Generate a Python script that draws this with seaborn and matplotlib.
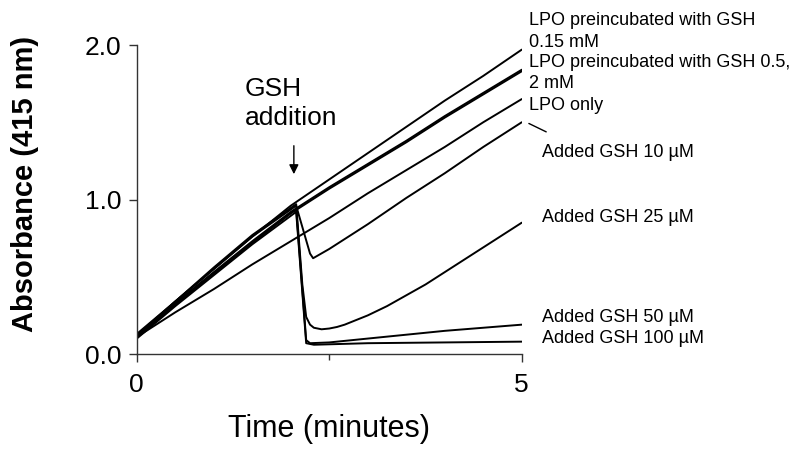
import matplotlib
matplotlib.use("Agg")
import matplotlib.pyplot as plt
import seaborn as sns
import pandas as pd

# curvas de absorbancia a 415 nm
t_pre = [0, 0.5, 1, 1.5, 2, 2.5, 3, 3.5, 4, 4.5, 5]
pre_015 = [0.12, 0.34, 0.55, 0.76, 0.96, 1.13, 1.30, 1.47, 1.64, 1.80, 1.97]
pre_05 = [0.12, 0.33, 0.53, 0.73, 0.92, 1.08, 1.23, 1.38, 1.54, 1.69, 1.84]
pre_2 = [0.11, 0.32, 0.52, 0.72, 0.91, 1.07, 1.22, 1.37, 1.53, 1.68, 1.83]
lpo_only = [0.11, 0.27, 0.42, 0.58, 0.73, 0.88, 1.04, 1.19, 1.34, 1.50, 1.65]

t_10 = [0, 0.5, 1, 1.5, 2.07, 2.25, 2.29, 2.5, 3, 3.5, 4, 4.5, 5]
gsh_10 = [0.13, 0.34, 0.55, 0.76, 0.96, 0.65, 0.62, 0.68, 0.84, 1.01, 1.17, 1.34, 1.50]

t_25 = [0, 0.5, 1, 1.5, 2.07, 2.15, 2.2, 2.25, 2.3, 2.4, 2.5, 2.6, 2.7, 2.8,
        2.9, 3, 3.25, 3.5, 3.75, 4, 4.5, 5]
gsh_25 = [0.12, 0.34, 0.56, 0.77, 0.97, 0.45, 0.24, 0.19, 0.17, 0.16, 0.165,
          0.175, 0.19, 0.21, 0.23, 0.25, 0.31, 0.38, 0.45, 0.53, 0.69, 0.85]

t_50 = [0, 0.5, 1, 1.5, 2.07, 2.2, 2.25, 2.5, 3, 4, 5]
gsh_50 = [0.11, 0.32, 0.52, 0.72, 0.94, 0.09, 0.07, 0.075, 0.10, 0.15, 0.19]

t_100 = [0, 0.5, 1, 1.5, 2.07, 2.2, 2.3, 3, 4, 5]
gsh_100 = [0.10, 0.31, 0.51, 0.71, 0.92, 0.07, 0.06, 0.07, 0.075, 0.08]

series = {
    "pre_015": (t_pre, pre_015),
    "pre_05": (t_pre, pre_05),
    "pre_2": (t_pre, pre_2),
    "lpo": (t_pre, lpo_only),
    "gsh_10": (t_10, gsh_10),
    "gsh_25": (t_25, gsh_25),
    "gsh_50": (t_50, gsh_50),
    "gsh_100": (t_100, gsh_100),
}

rows = []
for name, (tt, yy) in series.items():
    for a, b in zip(tt, yy):
        rows.append({"serie": name, "time": a, "abs": b})
df = pd.DataFrame(rows)

labels_pre = ["LPO preincubated with GSH", "0.15 mM",
              "LPO preincubated with GSH 0.5,", "2 mM", "LPO only"]
labels_added = ["Added GSH 10 µM", "Added GSH 25 µM",
                "Added GSH 50 µM", "Added GSH 100 µM"]

sns.set_style("ticks")
plt.rcParams["font.family"] = ["Liberation Sans", "DejaVu Sans"]
plt.rcParams["text.color"] = "black"
plt.rcParams["axes.labelcolor"] = "black"
plt.rcParams["xtick.color"] = "black"
plt.rcParams["ytick.color"] = "black"

fig = plt.figure(figsize=(8, 4.5), dpi=100)
ax = fig.add_axes([0.171, 0.2133, 0.4812, 0.6867])

sns.lineplot(data=df, x="time", y="abs", units="serie", estimator=None,
             color="black", linewidth=1.4, sort=False, ax=ax)

ax.set_xlim(0, 5)
ax.set_ylim(0, 2.0)
ax.set_xticks([0, 5])
ax.set_xticks([2.5], minor=True)
ax.set_yticks([0, 1, 2])
ax.set_yticklabels(["0.0", "1.0", "2.0"])
ax.tick_params(axis="both", which="major", labelsize=19, length=6, width=1,
               direction="out", color="#333333")
ax.tick_params(axis="x", which="major", pad=8)
ax.tick_params(axis="y", which="major", pad=5)
ax.tick_params(axis="x", which="minor", length=4, width=1, color="#333333")
sns.despine(ax=ax)
for s in ["left", "bottom"]:
    ax.spines[s].set_color("#333333")
    ax.spines[s].set_linewidth(1)

ax.set_xlabel("Time (minutes)", fontsize=22, labelpad=12)
ax.set_ylabel("Absorbance (415 nm)", fontsize=21, fontweight="bold")
ax.yaxis.set_label_coords(-0.255, 0.55)

# etiquetas de las curvas
pre_y = [2.13, 1.99, 1.86, 1.72, 1.58]
for txt, yy in zip(labels_pre, pre_y):
    ax.text(5.10, yy, txt, fontsize=13, va="baseline", ha="left",
            clip_on=False)
added_y = [1.275, 0.854, 0.207, 0.071]
for txt, yy in zip(labels_added, added_y):
    ax.text(5.26, yy, txt, fontsize=13, va="baseline", ha="left",
            clip_on=False)
ax.annotate("", xy=(5.35, 1.43), xytext=(5.06, 1.50),
            arrowprops=dict(arrowstyle="-", color="black", lw=1),
            annotation_clip=False)

# adicion de GSH
ax.text(1.40, 1.482, "GSH\naddition", fontsize=19, ha="left", va="baseline",
        linespacing=1.25)
ax.annotate("", xy=(2.04, 1.146), xytext=(2.04, 1.366),
            arrowprops=dict(arrowstyle="-|>", color="black", lw=1,
                            mutation_scale=14))

fig.savefig("out.png", dpi=100)
